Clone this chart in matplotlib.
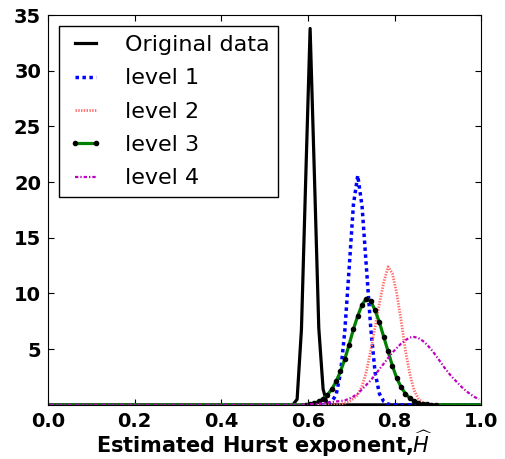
import matplotlib
matplotlib.use("Agg")
import matplotlib.pyplot as plt

# density of the estimated Hurst exponent (bin centres, width 0.01)
h_orig = [0.005, 0.565, 0.575, 0.585, 0.595, 0.605, 0.615, 0.625, 0.635, 0.645, 0.995]
d_orig = [0, 0, 0.5, 6.8, 20.5, 33.8, 20.5, 6.9, 1.4, 0, 0]

h_lev1 = [0.005, 0.635, 0.645, 0.655, 0.665, 0.675, 0.685, 0.695, 0.705, 0.715,
          0.725, 0.735, 0.745, 0.755, 0.765, 0.775, 0.785, 0.795, 0.995]
d_lev1 = [0, 0, 0.05, 0.3, 0.9, 2.8, 6.6, 12.2, 18.0, 20.6,
          17.8, 12.3, 6.9, 2.9, 1.0, 0.3, 0.07, 0, 0]

h_lev2 = [0.005, 0.665, 0.675, 0.685, 0.695, 0.705, 0.715, 0.725, 0.735, 0.745,
          0.755, 0.765, 0.775, 0.785, 0.795, 0.805, 0.815, 0.825, 0.835, 0.845,
          0.855, 0.865, 0.875, 0.885, 0.995]
d_lev2 = [0, 0, 0.05, 0.15, 0.3, 0.55, 0.9, 1.7, 3.0, 4.9,
          7.0, 9.1, 11.0, 12.4, 11.8, 10.0, 7.6, 4.9, 2.8, 1.3,
          0.55, 0.2, 0.06, 0, 0]

h_lev3 = [0.005, 0.595, 0.605, 0.615, 0.625, 0.635, 0.645, 0.655, 0.665, 0.675,
          0.685, 0.695, 0.705, 0.715, 0.725, 0.735, 0.745, 0.755, 0.765, 0.775,
          0.785, 0.795, 0.805, 0.815, 0.825, 0.835, 0.845, 0.855, 0.865, 0.875,
          0.885, 0.895, 0.995]
d_lev3 = [0, 0, 0.08, 0.16, 0.3, 0.55, 0.9, 1.4, 2.1, 3.0,
          4.1, 5.4, 6.8, 8.0, 9.0, 9.55, 9.3, 8.5, 7.4, 6.1,
          4.8, 3.5, 2.4, 1.6, 1.0, 0.6, 0.35, 0.18, 0.09, 0.04,
          0.02, 0, 0]

h_lev4 = [0.005, 0.595, 0.605, 0.615, 0.625, 0.635, 0.645, 0.655, 0.665, 0.675,
          0.685, 0.695, 0.705, 0.715, 0.725, 0.735, 0.745, 0.755, 0.765, 0.775,
          0.785, 0.795, 0.805, 0.815, 0.825, 0.835, 0.845, 0.855, 0.865, 0.875,
          0.885, 0.895, 0.905, 0.915, 0.925, 0.935, 0.945, 0.955, 0.965, 0.975,
          0.985, 0.995]
d_lev4 = [0, 0, 0.05, 0.07, 0.1, 0.15, 0.2, 0.25, 0.3, 0.35,
          0.4, 0.55, 0.75, 1.0, 1.4, 1.8, 2.2, 2.7, 3.2, 3.7,
          4.2, 4.7, 5.1, 5.5, 5.8, 6.05, 6.1, 6.0, 5.75, 5.4,
          4.95, 4.45, 3.9, 3.35, 2.85, 2.4, 2.0, 1.6, 1.25, 0.95,
          0.7, 0.5]

xticks = [0.0, 0.2, 0.4, 0.6, 0.8, 1.0]
yticks = [5, 10, 15, 20, 25, 30, 35]

fig = plt.figure(figsize=(5.06, 4.59), dpi=100)
ax = fig.add_axes([0.095, 0.118, 0.856, 0.849])

ax.plot(h_orig, d_orig, color="k", lw=2.3, label="Original data")
ax.plot(h_lev1, d_lev1, color="b", lw=2.5, ls=(0, (1, 1)), label="level 1")
ax.plot(h_lev2, d_lev2, color="#ff6e6e", lw=2, ls=(0, (0.5, 0.5)), label="level 2")
ax.plot(h_lev3, d_lev3, color="g", lw=2.3, ls="-", marker=".", ms=6,
        mfc="k", mec="k", markevery=slice(1, -1), label="level 3")
ax.plot(h_lev4, d_lev4, color="m", lw=1.6, ls=(0, (1.5, 0.9, 0.6, 0.9)), label="level 4")

ax.set_xlim(0, 1)
ax.set_ylim(0, 35)
ax.set_xticks(xticks)
ax.set_yticks(yticks)
ax.tick_params(direction="in", top=True, right=True, length=4, pad=5, labelsize=14)
for lab in ax.get_xticklabels() + ax.get_yticklabels():
    lab.set_fontweight("bold")

ax.set_xlabel(r"Estimated Hurst exponent,$\widehat{H}$", fontsize=15, fontweight="bold", labelpad=-1.5)

leg = ax.legend(loc="upper left", fontsize=16, fancybox=False, framealpha=1,
                edgecolor="k", numpoints=2, handlelength=1.55, handletextpad=1.0,
                labelspacing=0.6, borderaxespad=0.5)
leg.get_frame().set_linewidth(1)

fig.savefig("out.png", dpi=100)
